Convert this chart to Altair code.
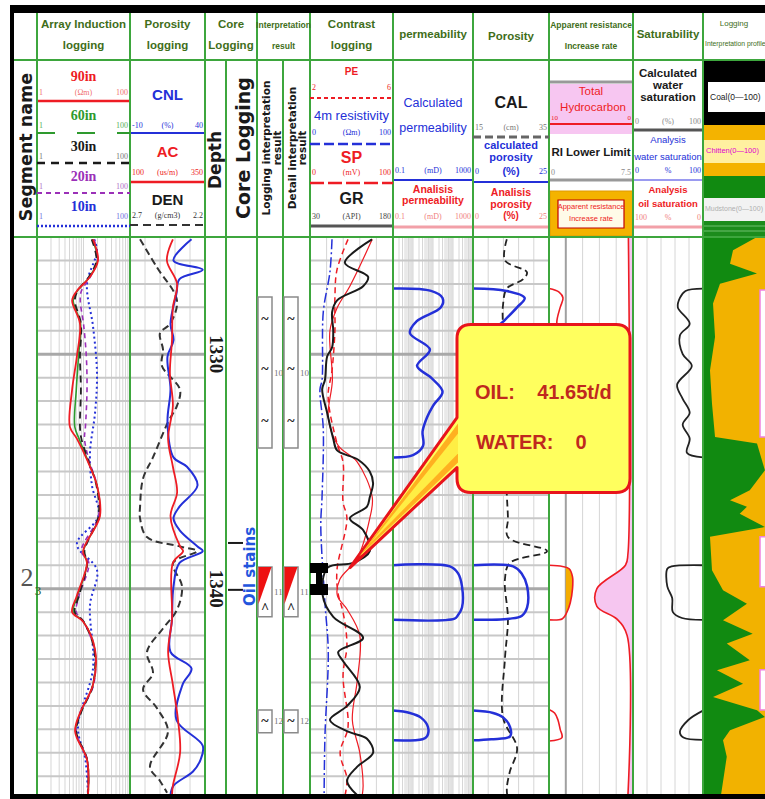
import altair as alt
import pandas as pd

# ============================ well data ============================ #
DEPTH_RANGE = [1325.0, 1348.8]            # metres shown in the log body
DEPTH_LABELS = [1330, 1340]
DEPTH_GRID = list(range(1325, 1349))

# array induction resistivity, ohm·m
IND_DEPTH = [1325.1, 1326.0, 1326.7, 1327.3, 1327.7, 1328.7, 1330.1, 1331.5, 1333.1, 1333.6, 1334.5, 1335.6,
             1336.9, 1338.4, 1338.9, 1340.3, 1341.0, 1341.4, 1342.6, 1344.1, 1345.3, 1346.1, 1347.3, 1348.8]
RT90 = [16.0, 20.5, 13.8, 7.2, 5.7, 8.4, 7.2, 5.7, 5.1, 7.2, 11.9, 19.5, 22.6, 9.8, 11.9, 7.2, 5.7, 9.8, 17.7, 16.0, 8.4, 6.6, 11.9, 12.5]
RT60 = [15.5, 20.0, 13.5, 7.4, 6.0, 8.6, 7.8, 7.0, 6.5, 8.0, 12.2, 19.5, 22.0, 10.0, 12.0, 7.5, 6.0, 9.9, 17.5, 16.0, 8.6, 6.8, 12.0, 12.5]
RT30 = [15.0, 19.0, 13.0, 7.5, 6.5, 8.8, 8.4, 8.8, 8.4, 9.0, 12.5, 19.0, 21.0, 10.5, 12.0, 8.0, 6.5, 10.0, 17.0, 16.0, 8.8, 7.0, 12.0, 12.5]
RT20 = [17.0, 20.0, 14.0, 9.0, 8.5, 10.0, 11.5, 11.9, 11.0, 10.5, 13.0, 19.5, 21.0, 9.0, 13.0, 8.0, 7.0, 10.0, 17.0, 16.5, 8.5, 7.0, 12.0, 12.5]
RT10_DEPTH = [1325.1, 1325.6, 1327.0, 1328.8, 1330.8, 1332.5, 1334.2, 1335.6, 1336.9, 1338.1, 1339.2, 1340.7, 1343.4, 1345.9, 1347.3, 1348.8]
RT10 = [17.0, 19.5, 11.9, 16.0, 19.5, 17.7, 13.8, 15.2, 21.0, 7.2, 19.5, 13.8, 16.0, 7.6, 11.0, 12.5]

# porosity logging
CNL_DEPTH = [1325.1, 1326.0, 1326.4, 1326.8, 1327.4, 1328.7, 1329.4, 1330.1, 1331.5, 1332.9, 1334.4, 1334.8, 1335.6, 1336.5, 1337.0,
             1337.5, 1338.2, 1338.4, 1338.9, 1339.9, 1341.3, 1342.7, 1343.4, 1344.1, 1345.6, 1346.7, 1347.3, 1347.8, 1348.4, 1348.8]
CNL = [31, 19, 38.5, 23, 21, 17, 19, 15, 17, 15, 19, 28, 35, 23, 19, 23, 35, 38.5, 23, 19, 18, 17, 31, 25, 21, 38.5, 37, 32, 19, 17]
AC_DEPTH = [1325.1, 1326.0, 1327.0, 1328.0, 1329.4, 1330.8, 1332.2, 1333.6, 1334.8, 1335.9, 1336.9, 1338.2, 1338.4, 1338.9,
            1341.3, 1342.7, 1344.1, 1345.6, 1347.0, 1348.4, 1348.8]
AC = [243, 223, 257, 243, 240, 233, 243, 227, 243, 257, 235, 267, 277, 243, 240, 227, 243, 260, 267, 243, 240]
DEN_DEPTH = [1325.1, 1326.3, 1327.7, 1328.7, 1329.1, 1329.8, 1330.5, 1331.5, 1332.2, 1332.9, 1334.4, 1335.3, 1336.5, 1337.0, 1337.8,
             1338.2, 1338.4, 1338.9, 1339.9, 1340.9, 1341.7, 1342.7, 1343.6, 1344.3, 1345.1, 1346.1, 1347.6, 1348.2, 1348.7]
DEN = [2.633, 2.52, 2.387, 2.433, 2.5, 2.48, 2.487, 2.367, 2.387, 2.447, 2.547, 2.613, 2.633, 2.633, 2.587,
       2.367, 2.253, 2.413, 2.353, 2.387, 2.48, 2.587, 2.547, 2.613, 2.52, 2.447, 2.567, 2.5, 2.453]

# contrast logging
GR_DEPTH = [1325.1, 1326.1, 1326.7, 1327.1, 1327.7, 1328.2, 1329.0, 1329.7, 1330.1, 1331.1, 1331.5, 1332.5, 1333.6, 1334.1,
            1334.5, 1335.0, 1335.5, 1336.1, 1336.5, 1337.0, 1337.5, 1338.4, 1338.9, 1339.1, 1340.3, 1341.2, 1342.1, 1342.7,
            1343.1, 1344.2, 1345.0, 1345.6, 1346.1, 1346.4, 1347.0, 1347.6, 1348.2, 1348.8]
GR = [142, 93, 135, 126, 79, 70, 72, 70, 61, 57, 52, 61, 72, 79, 117, 138, 144, 138, 133, 102, 126, 138, 108, 62,
      53, 72, 126, 81, 90, 120, 97, 66, 99, 133, 144, 115, 97, 115]
SP_DEPTH = [1325.1, 1326.4, 1327.6, 1329.0, 1330.7, 1331.8, 1333.8, 1334.6, 1336.3, 1337.0, 1339.2, 1340.2, 1341.0,
            1342.4, 1343.7, 1345.9, 1347.0, 1348.1, 1348.8]
SP = [45.8, 32.5, 30, 30, 26.5, 21.8, 32.5, 39.8, 39.8, 44.5, 32.5, 33.8, 39.8, 44.5, 39.8, 45.8, 36.3, 44.5, 42.3]
PE_DEPTH = [1325.1, 1327.1, 1328.0, 1329.0, 1331.1, 1332.7, 1333.9, 1334.6, 1336.1, 1337.0, 1338.7, 1339.6, 1340.3,
            1340.9, 1342.0, 1343.9, 1345.6, 1347.0, 1348.4, 1348.8]
PE = [5.0, 3.92, 3.32, 2.96, 3.08, 2.88, 3.36, 4.28, 5.0, 4.88, 4.28, 3.44, 3.32, 3.8, 4.4, 4.28, 4.04, 4.4, 4.56, 4.52]
RES4_DEPTH = [1325.1, 1326.5, 1328.2, 1331.1, 1331.5, 1333.2, 1336.1, 1337.3, 1340.6, 1342.7, 1346.3, 1348.8]
RES4 = [26.5, 24, 16, 14.5, 12, 16, 14.5, 13, 18, 22, 18, 17]

# calculated permeability (mD), one list per reservoir layer
PERM_DEPTH = [[1327.2, 1327.3, 1327.6, 1328.0, 1328.6, 1329.1, 1329.8, 1330.5, 1331.0, 1331.6, 1332.2, 1332.7, 1333.3, 1333.9, 1334.3, 1334.4],
              [1339.0, 1339.05, 1339.35, 1339.9, 1340.8, 1341.15, 1341.28, 1341.33],
              [1345.2, 1345.3, 1345.5, 1345.9, 1346.3, 1346.42, 1346.47]]
PERM = [[0.1, 8, 30, 25, 1.5, 0.7, 7, 1.6, 8, 30, 10, 5, 3, 3.2, 1, 0.1],
        [0.1, 70, 180, 282, 282, 170, 120, 0.1],
        [0.1, 0.7, 2.5, 5.6, 5, 3, 0.1]]

# calculated porosity (%)
PHI_DEPTH = PERM_DEPTH
PHI = [[0, 11, 17, 14.5, 10, 6, 12, 8, 12, 17, 13, 10, 9, 9.5, 6, 0],
       [0, 13.2, 16, 17.8, 17.8, 16.1, 12, 0],
       [0, 6.6, 10, 12.2, 12.2, 6, 0]]

# caliper (cm)
CAL_DEPTH = [1325.1, 1326.0, 1326.5, 1326.8, 1327.2, 1327.9, 1328.8, 1330.0, 1331.5, 1333.0, 1334.5, 1336.0, 1337.0, 1337.8,
             1338.4, 1338.9, 1339.6, 1341.3, 1343.0, 1345.5, 1346.8, 1347.8, 1348.5, 1348.8]
CAL = [23.9, 23.4, 29.2, 28.2, 23.9, 22.9, 22.9, 23.5, 23.2, 23.8, 23.5, 23.9, 24.2, 24.2, 34.5, 24.7, 23.4, 24.2, 23.4, 22.9,
       26.6, 24.7, 23.9, 24.0]

# apparent resistance increase rate, RI lower limit and total hydrocarbon
RI_LIMIT = 1.5
RI_DEPTH = [[1327.2, 1327.35, 1327.6, 1328.0, 1328.6, 1329.5, 1330.5, 1331.5, 1332.5, 1333.5, 1334.3, 1334.4],
            [1339.0, 1339.05, 1339.15, 1339.5, 1340.0, 1340.6, 1341.0, 1341.28, 1341.33],
            [1345.15, 1345.3, 1345.6, 1346.0, 1346.35, 1346.5]]
RI = [[0, 0.9, 1.25, 1.0, 0.7, 0.8, 0.6, 0.9, 0.7, 0.8, 0.5, 0],
      [0, 1.2, 1.8, 2.1, 2.1, 1.9, 1.6, 1.2, 0],
      [0, 0.5, 0.8, 1.0, 1.16, 0]]
HC_DEPTH = [1325.0, 1338.5, 1339.0, 1340.0, 1340.75, 1341.3, 1342.0, 1348.8]
HC = [0.55, 0.6, 0.9, 4.3, 4.3, 1.9, 0.7, 0.6]

# calculated water saturation (%)
SW_DEPTH = [[1327.2, 1327.3, 1327.6, 1328.0, 1328.7, 1329.2, 1330.0, 1330.5, 1331.3, 1331.9, 1332.5, 1333.0, 1333.6, 1334.2, 1334.4],
            [1339.0, 1339.05, 1339.15, 1339.9, 1340.4, 1341.0, 1341.25, 1341.33],
            [1345.2, 1345.6, 1346.1, 1346.35, 1346.45]]
SW = [[100, 75, 67, 64, 81, 67, 71, 84, 63, 71, 81, 71, 81, 77, 100],
      [100, 55, 49, 49, 56, 57, 70, 100],
      [100, 79, 67, 72, 100]]

# lithology profile: shale fraction (%), remainder is sandstone
PROF_DEPTH = [1325.0, 1325.57, 1326.14, 1326.56, 1326.99, 1327.84, 1329.26, 1330.69, 1332.11, 1333.53, 1333.81, 1334.95,
              1335.8, 1336.23, 1336.51, 1336.8, 1337.37, 1337.79, 1339.21, 1340.07, 1340.64, 1341.35, 1341.92, 1342.34,
              1343.05, 1343.48, 1344.05, 1344.62, 1345.18, 1345.47, 1346.04, 1346.46, 1347.17, 1348.8]
SHALE = [75, 41.7, 37.5, 75, 23.6, 13.9, 16.7, 9.7, 12.5, 16.7, 75, 86, 65, 37.5, 61, 51, 86, 9.7, 12.5, 27.8, 61, 27.8,
         69, 33, 65, 19.4, 55.6, 13.9, 75, 86, 37.5, 27.8, 33, 25]
OIL_TOP = [1327.26, 1337.79, 1343.46]
OIL_BOT = [1333.53, 1339.92, 1345.17]

# interpretation layers
LAYER_NO = ['10', '11', '12']
LAYER_TOP = [1327.56, 1339.07, 1345.17]
LAYER_BOT = [1334.0, 1341.2, 1346.15]
OIL_LAYER = '11'
LAYER_MARK_DEPTH = [1328.54, 1330.67, 1332.89, 1345.68, 1340.85]
LAYER_MARK = ['~', '~', '~', '~', '^']

# core description and test interval
CORE_TOP, CORE_BOT = 1338.05, 1340.05
PERF_TOP, PERF_BOT = 1338.9, 1340.27
TEST_OIL = 41.65     # t/d
TEST_WATER = 0

# ============================ layout ============================ #
TRACK = {'seg': (14, 37), 'ind': (37, 130), 'por': (130, 205), 'depth': (205, 226), 'core': (226, 257),
         'li': (257, 283), 'di': (283, 310), 'con': (310, 393), 'perm': (393, 473), 'phi': (473, 549),
         'ri': (549, 633), 'sat': (633, 703), 'prof': (703, 775)}
BODY_TOP, BODY_BOT = 237, 795
W, H = 765, 799

SANS, SERIF, DEJAVU = 'Liberation Sans', 'Liberation Serif', 'DejaVu Sans'
RED, BLUE, BLACK = '#ee1c24', '#2430d8', '#1a1a1a'
PURPLE, GREEN_LINE, PINK_LINE = '#9b30b8', '#3da63d', '#f2a0a8'
TITLE = '#3f6e1a'
NBSP = '\u00a0'


def depth_scale():
    return alt.Scale(domain=DEPTH_RANGE, range=[BODY_TOP, BODY_BOT], zero=False, nice=False)


def Yd(field='depth'):
    return alt.Y(f'{field}:Q', scale=depth_scale(), axis=None)


def xscale(track, domain, log=False, reverse=False):
    x0, x1 = TRACK[track]
    rng = [x1, x0] if reverse else [x0, x1]
    if log:
        return alt.Scale(type='log', domain=domain, range=rng, nice=False)
    return alt.Scale(domain=domain, range=rng, zero=False, nice=False)


def curve(df, field, track, domain, color, width, dash=None, log=False, reverse=False, seg=False):
    kw = dict(color=color, strokeWidth=width, interpolate='catmull-rom', strokeJoin='round')
    if dash:
        kw['strokeDash'] = dash
    enc = dict(x=alt.X(f'{field}:Q', scale=xscale(track, domain, log, reverse), axis=None),
               y=Yd(), order=alt.Order('depth:Q'))
    if seg:
        enc['detail'] = alt.Detail('seg:N')
    return alt.Chart(df).mark_line(**kw).encode(**enc)


def seg_frame(depths, values, name):
    rows = []
    for i, (ds, vs) in enumerate(zip(depths, values)):
        for d, v in zip(ds, vs):
            rows.append({'seg': i, 'depth': d, name: v})
    return pd.DataFrame(rows)


# ---- primitive collectors (pixel layout of the template) ----
BG, RULES, TEXTS, FRAME = [], [], [], []


def rect(lst, x, y, x2, y2, fill, stroke='transparent', sw=0):
    lst.append(dict(x=x, y=y, x2=x2, y2=y2, f=fill, s=stroke, sw=sw))


def rule(x, y, x2, y2, color, w=1.0, dash=None):
    RULES.append(dict(x=x, y=y, x2=x2, y2=y2, c=color, w=w, dash=tuple(dash) if dash else None))


def label(x, y, s, size=10, color=BLACK, weight='normal', font=SANS, angle=0, align='center'):
    TEXTS.append(dict(x=x, y=y, s=s, size=size, color=color, weight=weight, font=font, angle=angle, align=align))


def scale_labels(track, y, lo, unit, hi, color, size=8):
    x0, x1 = TRACK[track]
    label(x0 + 2, y, lo, size, color, font=SERIF, align='left')
    if unit:
        label((x0 + x1) / 2, y, unit, size, color, font=SERIF)
    label(min(x1, W) - 2, y, hi, size, color, font=SERIF, align='right')


def rect_layer(lst):
    df = pd.DataFrame(lst)
    return alt.Chart(df).mark_rect().encode(
        x=alt.X('x:Q', scale=None), y=alt.Y('y:Q', scale=None), x2='x2:Q', y2='y2:Q',
        fill=alt.Fill('f:N', scale=None), stroke=alt.Stroke('s:N', scale=None),
        strokeWidth=alt.StrokeWidth('sw:Q', scale=None))


def rule_layers():
    groups = {}
    for r in RULES:
        groups.setdefault(r['dash'], []).append(r)
    out = []
    for dash, rows in groups.items():
        df = pd.DataFrame(rows).drop(columns='dash')
        kw = {'strokeDash': list(dash)} if dash else {}
        out.append(alt.Chart(df).mark_rule(**kw).encode(
            x=alt.X('x:Q', scale=None), y=alt.Y('y:Q', scale=None), x2='x2:Q', y2='y2:Q',
            color=alt.Color('c:N', scale=None), strokeWidth=alt.StrokeWidth('w:Q', scale=None)))
    return out


def text_layers():
    groups = {}
    for t in TEXTS:
        groups.setdefault((t['font'], t['weight'], t['align']), []).append(t)
    out = []
    for (font, weight, align), rows in groups.items():
        df = pd.DataFrame(rows)[['x', 'y', 's', 'size', 'color', 'angle']]
        out.append(alt.Chart(df).mark_text(font=font, fontWeight=weight, align=align, baseline='middle').encode(
            x=alt.X('x:Q', scale=None), y=alt.Y('y:Q', scale=None), text=alt.Text('s:N'),
            size=alt.Size('size:Q', scale=None), color=alt.Color('color:N', scale=None),
            angle=alt.Angle('angle:Q', scale=None)))
    return out


# ---------------- header: title row ----------------
for cx, lines, size in [(83.5, ['Array Induction', 'logging'], 11.5), (167.5, ['Porosity', 'logging'], 11.5),
                        (231, ['Core', 'Logging'], 11.5), (283.5, ['Interpretation', 'result'], 8.5),
                        (351.5, ['Contrast', 'logging'], 11.5), (591, ['Apparent resistance', 'Increase rate'], 8.5)]:
    label(cx, 25, lines[0], size, TITLE, 'bold')
    label(cx, 46, lines[1], size, TITLE, 'bold')
label(433, 35, 'permeability', 11.5, TITLE, 'bold')
label(511, 37, 'Porosity', 11.5, TITLE, 'bold')
label(668, 35, 'Saturability', 11.5, TITLE, 'bold')
label(734, 24, 'Logging', 8, TITLE)
label(705, 44, 'Interpretation profile', 6.8, TITLE, align='left')

# ---------------- header: curve legends ----------------
label(27, 147, 'Segment name', 17.5, BLACK, 'bold', DEJAVU, angle=270)

for name, y, col, lab_col, yl, dash, lw in [('90in', 77, RED, '#f07070', 101, None, 2.5),
                                            ('60in', 116, '#2e9a2e', '#5aae5a', 133, [18, 22], 2),
                                            ('30in', 147, BLACK, '#777777', 163, [8, 6], 2.5),
                                            ('20in', 177, PURPLE, '#b070c8', 193, [5, 4], 2),
                                            ('10in', 207, BLUE, '#7070e0', 226, [2, 2], 2.5)]:
    label(83.5, y, name, 14, col, 'bold', SERIF)
    scale_labels('ind', y + 16 if name == '90in' else y + 10, '1', '(Ωm)' if name == '90in' else '', '100', lab_col)
    rule(37, yl, 130, yl, col, lw, dash)

label(167.5, 95, 'CNL', 15, BLUE, 'bold')
scale_labels('por', 126, '-10', '(%)', '40', BLUE)
rule(130, 133, 205, 133, BLUE, 2)
label(167.5, 152, 'AC', 15, RED, 'bold')
scale_labels('por', 173, '100', '(us/m)', '350', RED)
rule(130, 182, 205, 182, RED, 2.5)
label(167.5, 200, 'DEN', 15, BLACK, 'bold')
scale_labels('por', 216, '2.7', '(g/cm3)', '2.2', '#333333')
rule(130, 225, 205, 225, '#333333', 2, [8, 5])

label(216, 160, 'Depth', 17, BLACK, 'bold', DEJAVU, angle=270)
label(244, 148, 'Core Logging', 19, BLACK, 'bold', DEJAVU, angle=270)
label(267, 148, 'Logging interpretation', 10.5, BLACK, 'bold', DEJAVU, angle=270)
label(277.5, 148, 'result', 10.5, BLACK, 'bold', DEJAVU, angle=270)
label(292.5, 148, 'Detail interpretation', 10.5, BLACK, 'bold', DEJAVU, angle=270)
label(303, 148, 'result', 10.5, BLACK, 'bold', DEJAVU, angle=270)

label(351.5, 72, 'PE', 10, RED, 'bold')
scale_labels('con', 88, '2', '', '6', RED)
rule(310, 98, 393, 98, RED, 2, [4, 3])
label(351.5, 116, '4m resistivity', 13, BLUE)
scale_labels('con', 133, '0', '(Ωm)', '100', BLUE)
rule(310, 144, 393, 144, BLUE, 2.5, [10, 4])
label(351.5, 158, 'SP', 16, RED, 'bold')
scale_labels('con', 173, '0', '(mV)', '100', RED)
rule(310, 183, 393, 183, RED, 2.5, [14, 4])
label(351.5, 199, 'GR', 16, BLACK, 'bold')
scale_labels('con', 217, '30', '(API)', '180', '#444444')
rule(310, 226, 393, 226, '#555555', 3)

label(433, 103, 'Calculated', 12.5, BLUE)
label(433, 128, 'permeability', 12.5, BLUE)
scale_labels('perm', 171, '0.1', '(mD)', '1000', BLUE)
rule(393, 180, 473, 180, BLUE, 2)
label(433, 190, 'Analisis', 10.5, RED, 'bold')
label(433, 201, 'permeability', 10.5, RED, 'bold')
scale_labels('perm', 217, '0.1', '(mD)', '1000', '#f08080')
rule(393, 227, 473, 227, PINK_LINE, 3)

label(511, 103, 'CAL', 16, BLACK, 'bold')
scale_labels('phi', 128, '15', '(cm)', '35', '#777777')
rule(473, 137, 549, 137, '#666666', 3, [8, 4])
label(511, 146, 'calculated', 11, BLUE, 'bold')
label(511, 158, 'porosity', 11, BLUE, 'bold')
label(511, 172, '(%)', 11, BLUE, 'bold')
scale_labels('phi', 172, '0', '', '25', BLUE)
rule(473, 182, 549, 182, BLUE, 2)
label(511, 193, 'Analisis', 10.5, RED, 'bold')
label(511, 205, 'porosity', 10.5, RED, 'bold')
label(511, 216, '(%)', 10, RED, 'bold')
scale_labels('phi', 217, '0', '', '25', '#f08080')
rule(473, 227, 549, 227, PINK_LINE, 3)

rule(549, 82, 633, 82, '#999999', 3)
rect(BG, 549, 84, 633, 134, '#f7c6f1')
label(591, 92, 'Total', 11.5, RED)
label(593, 108, 'Hydrocarbon', 11.5, RED)
scale_labels('ri', 118, '10', '', '0', RED, size=7)
rule(549, 124, 633, 124, RED, 2)
label(591, 153, 'RI Lower Limit', 11.5, BLACK, 'bold')
scale_labels('ri', 173, '0', '', '7.5', '#888888')
rule(549, 180, 633, 180, '#999999', 3)
rect(BG, 550, 191, 633, 236, '#f4b300', '#e09a00', 1)
rect(BG, 558, 200, 624, 228, '#fffbe8', '#c00000', 1.2)
label(591, 207, 'Apparent resistance', 7.5, RED)
label(591, 219, 'Increase rate', 7.5, RED)

label(668, 74, 'Calculated', 11.5, BLACK, 'bold')
label(668, 86, 'water', 11.5, BLACK, 'bold')
label(668, 98, 'saturation', 11.5, BLACK, 'bold')
scale_labels('sat', 122, '0', '(%)', '100', '#888888')
rule(633, 130, 703, 130, '#555555', 3)
label(668, 140, 'Analysis', 9.5, BLUE)
label(668, 157, 'water saturation', 9.5, BLUE)
scale_labels('sat', 171, '0', '%', '100', BLUE)
rule(633, 180, 703, 180, '#9a9af0', 2)
label(668, 190, 'Analysis', 9.5, RED, 'bold')
label(668, 204, 'oil saturation', 9.5, RED, 'bold')
scale_labels('sat', 218, '100', '%', '0', '#f08080')
rule(633, 227, 703, 227, PINK_LINE, 3)

rect(BG, 703, 61, 766, 125, 'black')
rect(BG, 708, 82, 766, 112, 'white')
label(710, 97, 'Coal(0—100)', 8.5, BLACK, align='left')
rect(BG, 703, 125, 766, 176, '#f4b300')
rect(BG, 703, 140, 766, 163, '#fff0a0')
label(706, 151, 'Chitten(0—100)', 7.5, '#e000d0', align='left')
rect(BG, 703, 176, 766, 198, '#118a11')
rect(BG, 703, 198, 766, 221, '#f2f2f2')
label(705, 209, 'Mudstone(0—100)', 7, '#b0b0b0', align='left')
rect(BG, 703, 221, 766, 237, '#1c8c1c')
rule(703, 226, 766, 226, '#6fc06f', 1)
rule(703, 231, 766, 231, '#6fc06f', 1)

# profile body background (shale)
rect(BG, 703, BODY_TOP, 766, BODY_BOT, '#118a11')

# ---------------- column borders ----------------
for x in [37, 130, 205, 257, 310, 393, 473, 549, 633, 703]:
    rule(x, 13, x, BODY_BOT, GREEN_LINE, 2)
for x in [226, 283]:
    rule(x, 60, x, BODY_BOT, GREEN_LINE, 2)
for y in [60, BODY_TOP]:
    rule(14, y, 766, y, GREEN_LINE, 2)

# formation label in the segment column
label(27, 578, '2', 26, '#555555', font=SERIF)
label(38, 591, '3', 13, '#2a5a2a', font=SERIF)

# test result callout text
label(475, 393, 'OIL:' + NBSP * 4 + f'{TEST_OIL:.2f}t/d', 20, '#c0281e', 'bold', align='left')
label(476, 443, 'WATER:' + NBSP * 4 + f'{TEST_WATER}', 20, '#c0281e', 'bold', align='left')

# outer frame
rect(FRAME, 10, 5, W, 13, 'black')
rect(FRAME, 10, 5, 14, H, 'black')
rect(FRAME, 10, 794, W, H, 'black')

# ============================ chart layers ============================ #
layers = [rect_layer(BG)]


# vertical grids
def vgrid(track, values, domain, log=False, color='#d6d6d6', width=1.0):
    return alt.Chart(pd.DataFrame({'v': values})).mark_rule(color=color, strokeWidth=width).encode(
        x=alt.X('v:Q', scale=xscale(track, domain, log), axis=None),
        y=alt.value(BODY_TOP), y2=alt.value(BODY_BOT))


layers += [
    vgrid('ind', [2, 3, 4, 5, 6, 7, 8, 9, 10, 20, 30, 40, 50, 60, 70, 80, 90], [1, 100], log=True),
    vgrid('por', [0, 10, 20, 30], [-10, 40]),
    vgrid('con', [60, 90, 120, 150], [30, 180]),
    vgrid('perm', [k * 10.0 ** e for e in (-1, 0, 1, 2) for k in range(1, 10)][1:], [0.1, 1000], log=True),
    vgrid('phi', [5, 10, 15, 20], [0, 25]),
    vgrid('ri', [3, 4.5, 6], [0, 7.5]),
    vgrid('ri', [RI_LIMIT], [0, 7.5], color='#a0a0a0', width=2),
    vgrid('sat', [20, 40, 60, 80], [0, 100]),
]

# horizontal depth grid
grid_df = pd.DataFrame({'depth': DEPTH_GRID})
grid_df['major'] = grid_df['depth'] % 10 == 0
for tr in ['ind', 'por', 'con', 'perm', 'phi']:
    x0, x1 = TRACK[tr]
    layers.append(alt.Chart(grid_df).transform_filter('!datum.major').mark_rule(color='#c8c8c8', strokeWidth=2).encode(
        y=Yd(), x=alt.value(x0), x2=alt.value(x1)))
    layers.append(alt.Chart(grid_df).transform_filter('datum.major').mark_rule(color='#a8a8a8', strokeWidth=3).encode(
        y=Yd(), x=alt.value(x0), x2=alt.value(x1)))

# lithology profile: sandstone fills from the shale boundary to the track's right edge
prof_df = pd.DataFrame({'depth': PROF_DEPTH, 'shale': SHALE})
prof_df['full'] = 100
layers.append(alt.Chart(prof_df).mark_area(orient='horizontal', interpolate='linear', color='#f2b200').encode(
    x=alt.X('shale:Q', scale=xscale('prof', [0, 100]), axis=None), x2='full:Q', y=Yd()))
oil_df = pd.DataFrame({'top': OIL_TOP, 'bot': OIL_BOT})
layers.append(alt.Chart(oil_df).mark_rect(fill='white', stroke='#f080e0', strokeWidth=1.5).encode(
    y=Yd('top'), y2='bot:Q', x=alt.value(760), x2=alt.value(768)))

# hydrocarbon and RI fills
hc_df = pd.DataFrame({'depth': HC_DEPTH, 'hc': HC})
hc_df['base'] = 0
layers.append(alt.Chart(hc_df).mark_area(orient='horizontal', interpolate='catmull-rom', color='#f6c6f0').encode(
    x=alt.X('hc:Q', scale=xscale('ri', [0, 10], reverse=True), axis=None), x2='base:Q', y=Yd()))
ri_df = seg_frame(RI_DEPTH, RI, 'ri')
ri_df['ri_fill'] = ri_df['ri'].clip(lower=RI_LIMIT)
ri_df['lim'] = RI_LIMIT
layers.append(alt.Chart(ri_df).mark_area(orient='horizontal', interpolate='catmull-rom', color='#f4ac00').encode(
    x=alt.X('ri_fill:Q', scale=xscale('ri', [0, 7.5]), axis=None), x2='lim:Q', y=Yd(), detail='seg:N'))

# curves
ind_df = pd.DataFrame({'depth': IND_DEPTH, 'rt90': RT90, 'rt60': RT60, 'rt30': RT30, 'rt20': RT20})
rt10_df = pd.DataFrame({'depth': RT10_DEPTH, 'rt10': RT10})
layers += [
    curve(ind_df, 'rt60', 'ind', [1, 100], '#2e9a2e', 1.6, log=True),
    curve(rt10_df, 'rt10', 'ind', [1, 100], BLUE, 2, dash=[2, 3], log=True),
    curve(ind_df, 'rt20', 'ind', [1, 100], PURPLE, 1.6, dash=[5, 4], log=True),
    curve(ind_df, 'rt30', 'ind', [1, 100], '#222222', 1.8, dash=[7, 5], log=True),
    curve(ind_df, 'rt90', 'ind', [1, 100], RED, 1.8, log=True),
    curve(pd.DataFrame({'depth': DEN_DEPTH, 'den': DEN}), 'den', 'por', [2.2, 2.7], '#333333', 2, dash=[7, 4], reverse=True),
    curve(pd.DataFrame({'depth': CNL_DEPTH, 'cnl': CNL}), 'cnl', 'por', [-10, 40], BLUE, 2),
    curve(pd.DataFrame({'depth': AC_DEPTH, 'ac': AC}), 'ac', 'por', [100, 350], RED, 1.8),
    curve(pd.DataFrame({'depth': RES4_DEPTH, 'r4': RES4}), 'r4', 'con', [0, 100], BLUE, 1.5, dash=[10, 3, 2, 3]),
    curve(pd.DataFrame({'depth': SP_DEPTH, 'sp': SP}), 'sp', 'con', [0, 100], RED, 1.5, dash=[6, 4]),
    curve(pd.DataFrame({'depth': PE_DEPTH, 'pe': PE}), 'pe', 'con', [2, 6], RED, 1.2),
    curve(pd.DataFrame({'depth': GR_DEPTH, 'gr': GR}), 'gr', 'con', [30, 180], BLACK, 2),
    curve(seg_frame(PERM_DEPTH, PERM, 'perm'), 'perm', 'perm', [0.1, 1000], BLUE, 2.5, log=True, seg=True),
    curve(pd.DataFrame({'depth': CAL_DEPTH, 'cal': CAL}), 'cal', 'phi', [15, 35], '#222222', 1.8, dash=[7, 4]),
    curve(seg_frame(PHI_DEPTH, PHI, 'phi'), 'phi', 'phi', [0, 25], BLUE, 2.5, seg=True),
    curve(ri_df, 'ri', 'ri', [0, 7.5], RED, 1.6, seg=True),
    curve(hc_df, 'hc', 'ri', [0, 10], RED, 1.6, reverse=True),
    curve(seg_frame(SW_DEPTH, SW, 'sw'), 'sw', 'sat', [0, 100], '#222222', 1.8, seg=True),
]

# borders and legend lines
layers += rule_layers()

# interpretation columns
layer_df = pd.DataFrame({'no': LAYER_NO, 'top': LAYER_TOP, 'bot': LAYER_BOT})
mark_df = pd.DataFrame({'depth': LAYER_MARK_DEPTH, 'm': LAYER_MARK})
for bx in [258, 284]:
    layers.append(alt.Chart(layer_df).mark_rect(fill='white', stroke='#8a8a8a', strokeWidth=1.5).encode(
        y=Yd('top'), y2='bot:Q', x=alt.value(bx), x2=alt.value(bx + 14)))
    layers.append(alt.Chart(layer_df).transform_filter(alt.datum.no == OIL_LAYER).mark_point(
        shape='M0,0 L13,0 L0,37 Z', size=4, filled=True, fill='#ee1111', strokeWidth=0, opacity=1).encode(
        y=Yd('top'), x=alt.value(bx + 0.5)))
    layers.append(alt.Chart(layer_df).transform_calculate(mid='(datum.top + datum.bot) / 2').mark_text(
        font=SERIF, fontSize=9, color='#777777', align='left', baseline='middle').encode(
        y=Yd('mid'), x=alt.value(bx + 16), text='no:N'))
    layers.append(alt.Chart(mark_df).mark_text(font=SERIF, fontSize=14, fontWeight='bold', color='#222222',
                                               baseline='middle').encode(
        y=Yd(), x=alt.value(bx + 7), text='m:N'))

# core description
core_df = pd.DataFrame({'depth': [CORE_TOP, CORE_BOT]})
layers.append(alt.Chart(core_df).mark_rule(color=BLACK, strokeWidth=2).encode(
    y=Yd(), x=alt.value(228), x2=alt.value(243)))
layers.append(alt.Chart(pd.DataFrame({'depth': [(CORE_TOP + CORE_BOT) / 2], 't': ['Oil stains']})).mark_text(
    font=DEJAVU, fontSize=15, fontWeight='bold', color='#2255dd', angle=270, baseline='middle').encode(
    y=Yd(), x=alt.value(250), text='t:N'))

# depth numbers
layers.append(alt.Chart(pd.DataFrame({'depth': DEPTH_LABELS})).mark_text(
    font=SERIF, fontSize=19, fontWeight='bold', color=BLACK, angle=90, baseline='middle').encode(
    y=Yd(), x=alt.value(216), text='depth:N'))

# perforated (tested) interval marker
layers.append(alt.Chart(pd.DataFrame({'depth': [(PERF_TOP + PERF_BOT) / 2]})).mark_point(
    shape='M-9,-16 L9,-16 L9,-6 L3,-6 L3,5 L9,5 L9,16 L-9,16 L-9,5 L-3,5 L-3,-6 L-9,-6 Z',
    size=4, filled=True, fill='black', strokeWidth=0, opacity=1).encode(y=Yd(), x=alt.value(319)))

# test result callout pointing at the tested interval (outline, then the shaded pointer inside it)
callout_df = pd.DataFrame({'depth': [PERF_TOP + 0.2]})
CALLOUT = ('M0,0 L107,-150 L107,-229 Q107,-243 121,-243 L266,-243 Q280,-243 280,-229 L280,-89 '
           'Q280,-75 266,-75 L121,-75 Q107,-75 107,-89 L107,-100 Z')
for path, fill in [('M9,-11 L108,-144 L108,-105 Z', '#ffb020'), ('M20,-24 L108,-134 L108,-114 Z', '#ffee44')]:
    pass
layers.append(alt.Chart(callout_df).mark_point(
    shape=CALLOUT, size=4, filled=True, fill='#ffff5e', stroke='#e8141c', strokeWidth=3,
    strokeJoin='round', opacity=1).encode(y=Yd(), x=alt.value(350)))
for path, fill in [('M9,-11 L108,-144 L108,-105 Z', '#ffb020'), ('M20,-24 L108,-134 L108,-114 Z', '#ffee44')]:
    layers.append(alt.Chart(callout_df).mark_point(
        shape=path, size=4, filled=True, fill=fill, strokeWidth=0, opacity=1).encode(y=Yd(), x=alt.value(350)))

layers += text_layers()
layers.append(rect_layer(FRAME))

chart = alt.layer(*layers).resolve_scale(x='independent', y='independent').properties(
    width=W, height=H, padding=0, autosize=alt.AutoSizeParams(type='none'), background='white'
).configure_view(stroke=None)

chart.save('out.html', embed_options={'renderer': 'svg', 'actions': False})
